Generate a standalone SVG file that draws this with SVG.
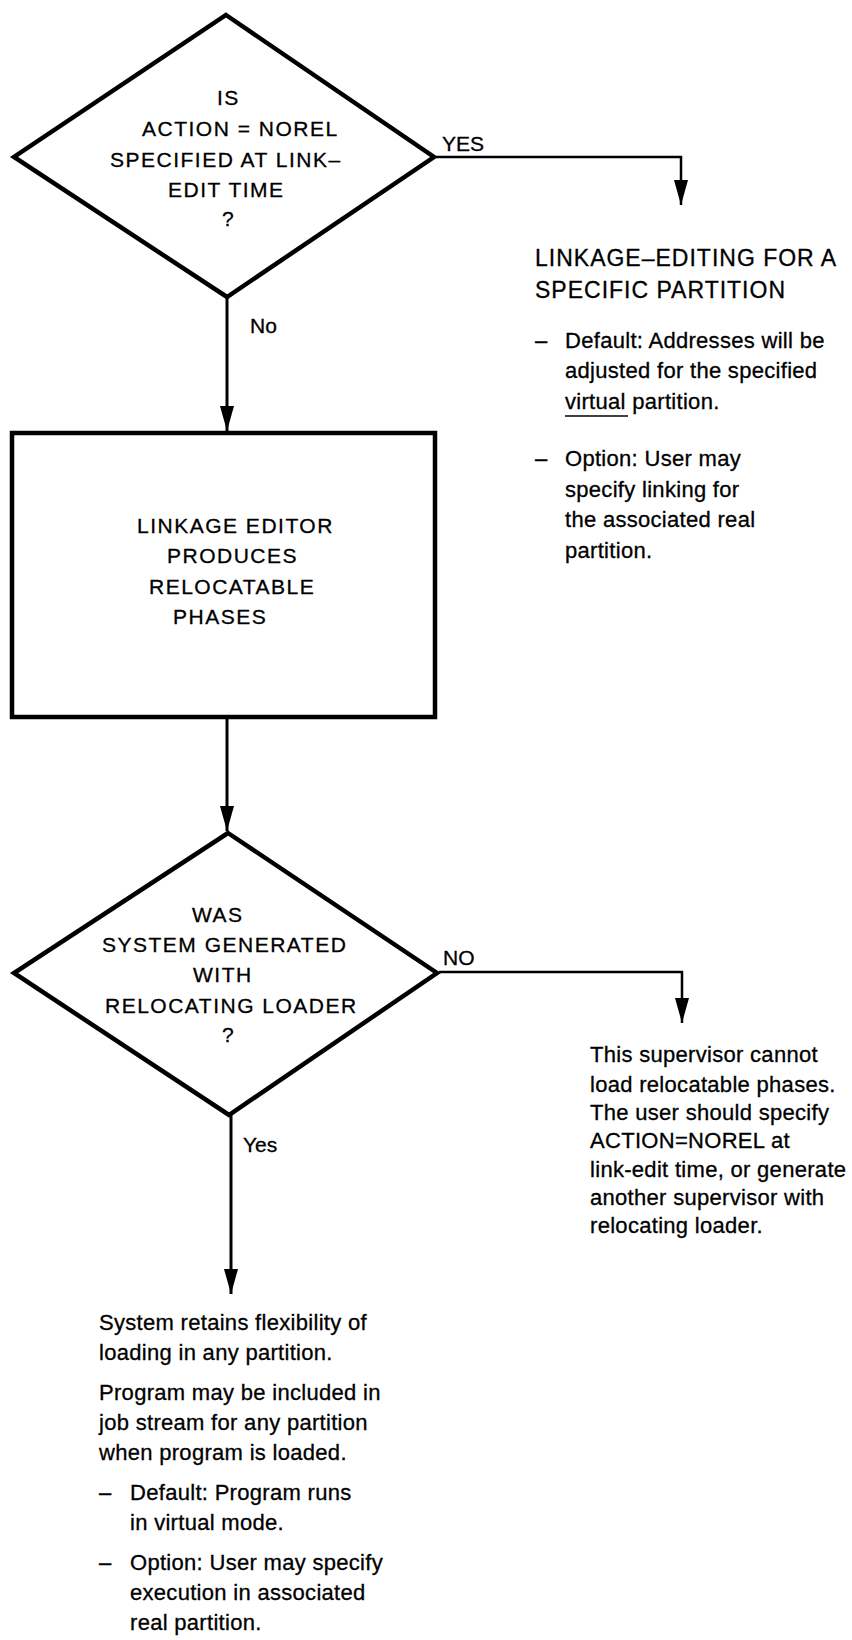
<svg xmlns="http://www.w3.org/2000/svg" width="852" height="1640" viewBox="0 0 852 1640">
<style>
.shape{fill:#fff;stroke:#000;stroke-width:4.5;stroke-linejoin:miter}
.conn{fill:none;stroke:#000;stroke-width:3}
.hconn{fill:none;stroke:#000;stroke-width:2.5}
text{font-family:"Liberation Sans",Arial,sans-serif;fill:#000;stroke:#000;stroke-width:0.3}
.cap{font-size:21px;letter-spacing:1.5px}
.lbl{font-size:21px}
.head{font-size:23px;letter-spacing:1px}
.body{font-size:22px;letter-spacing:0.3px}
</style>
<defs>
<marker id="ah" viewBox="0 0 25 14" refX="25" refY="7" markerWidth="25" markerHeight="14" markerUnits="userSpaceOnUse" orient="auto">
<path d="M0,0 L25,7 L0,14 z" fill="#000"/>
</marker>
</defs>
<rect width="852" height="1640" fill="#fff"/>

<g id="connectors">
<path class="conn" d="M227,297 V431" marker-end="url(#ah)"/>
<path class="conn" d="M227,717 V831" marker-end="url(#ah)"/>
<path class="hconn" d="M436,157 H681 V205" marker-end="url(#ah)"/>
<path class="hconn" d="M439,972 H682 V1023" marker-end="url(#ah)"/>
<path class="conn" d="M231,1115 V1294" marker-end="url(#ah)"/>
<text class="lbl" x="442" y="151">YES</text>
<text class="lbl" x="250" y="333">No</text>
<text class="lbl" x="443" y="965">NO</text>
<text class="lbl" x="243" y="1152">Yes</text>
</g>

<g id="decision-norel">
<polygon class="shape" points="226,15 434,157 227,297 14,157"/>
<text class="cap" x="217" y="105">IS</text>
<text class="cap" x="142" y="136">ACTION = NOREL</text>
<text class="cap" x="110" y="167">SPECIFIED AT LINK–</text>
<text class="cap" x="168" y="197">EDIT TIME</text>
<text class="cap" x="222" y="226">?</text>
</g>

<g id="linkage-specific">
<text class="head" x="535" y="266">LINKAGE–EDITING FOR A</text>
<text class="head" x="535" y="298">SPECIFIC PARTITION</text>
<text class="body" x="535" y="348">–</text>
<text class="body" x="565" y="348">Default: Addresses will be</text>
<text class="body" x="565" y="378">adjusted for the specified</text>
<text class="body" x="565" y="409">virtual partition.</text>
<line x1="565" y1="416" x2="628" y2="416" stroke="#000" stroke-width="1.5"/>
<text class="body" x="535" y="466">–</text>
<text class="body" x="565" y="466">Option: User may</text>
<text class="body" x="565" y="497">specify linking for</text>
<text class="body" x="565" y="527">the associated real</text>
<text class="body" x="565" y="558">partition.</text>
</g>

<g id="linkage-editor">
<rect class="shape" x="12" y="433" width="423" height="284"/>
<text class="cap" x="137" y="533">LINKAGE EDITOR</text>
<text class="cap" x="167" y="563">PRODUCES</text>
<text class="cap" x="149" y="594">RELOCATABLE</text>
<text class="cap" x="173" y="624">PHASES</text>
</g>

<g id="decision-loader">
<polygon class="shape" points="228,833 437,973 229,1115 14,973"/>
<text class="cap" x="192" y="922">WAS</text>
<text class="cap" x="102" y="952">SYSTEM GENERATED</text>
<text class="cap" x="193" y="982">WITH</text>
<text class="cap" x="105" y="1013">RELOCATING LOADER</text>
<text class="cap" x="222" y="1042">?</text>
</g>

<g id="no-loader">
<text class="body" x="590" y="1062">This supervisor cannot</text>
<text class="body" x="590" y="1092">load relocatable phases.</text>
<text class="body" x="590" y="1120">The user should specify</text>
<text class="body" x="590" y="1148">ACTION=NOREL at</text>
<text class="body" x="590" y="1177">link-edit time, or generate</text>
<text class="body" x="590" y="1205">another supervisor with</text>
<text class="body" x="590" y="1233">relocating loader.</text>
</g>

<g id="flexible-loading">
<text class="body" x="99" y="1330">System retains flexibility of</text>
<text class="body" x="99" y="1360">loading in any partition.</text>
<text class="body" x="99" y="1400">Program may be included in</text>
<text class="body" x="99" y="1430">job stream for any partition</text>
<text class="body" x="99" y="1460">when program is loaded.</text>
<text class="body" x="99" y="1500">–</text>
<text class="body" x="130" y="1500">Default: Program runs</text>
<text class="body" x="130" y="1530">in virtual mode.</text>
<text class="body" x="99" y="1570">–</text>
<text class="body" x="130" y="1570">Option: User may specify</text>
<text class="body" x="130" y="1600">execution in associated</text>
<text class="body" x="130" y="1630">real partition.</text>
</g>
</svg>
